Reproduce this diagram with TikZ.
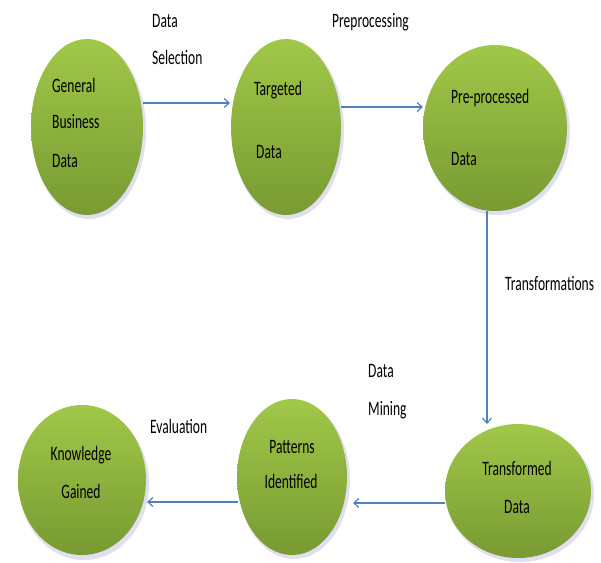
\documentclass[tikz,border=0pt]{standalone}
\usepackage{fontspec}
\setmainfont[FakeStretch=0.66]{Carlito}
\usetikzlibrary{arrows.meta,shapes.geometric}
\definecolor{gtop}{RGB}{160,200,72}
\definecolor{gbot}{RGB}{120,154,50}
\definecolor{arr}{RGB}{79,129,189}
\tikzset{
  blob/.style={ellipse, inner sep=0pt, top color=gtop, bottom color=gbot, draw=none},
  shad/.style={ellipse, inner sep=0pt, fill=gray!60!blue!30, draw=none, opacity=0.6},
  txt/.style={inner sep=0pt, anchor=base west, font=\fontsize{20.5}{22}\selectfont, text=black},
  txtc/.style={inner sep=0pt, anchor=base, font=\fontsize{20.5}{22}\selectfont, text=black},
  flow/.style={draw=arr, line width=1.4pt, -{Straight Barb[length=5pt,width=9pt,line width=1.2pt]}}
}
\begin{document}
\begin{tikzpicture}[x=1pt,y=-1pt]
\useasboundingbox (0,0) rectangle (601,562);
% shadows
\node[shad, minimum width=114pt, minimum height=178pt] at (89,130) {};
\node[shad, minimum width=112pt, minimum height=178pt] at (288,130) {};
\node[shad, minimum width=146pt, minimum height=168pt] at (497,131) {};
\node[shad, minimum width=148pt, minimum height=136pt] at (520,494) {};
\node[shad, minimum width=112pt, minimum height=158pt] at (294,480) {};
\node[shad, minimum width=130pt, minimum height=152pt] at (84,484) {};
% ellipses
\node[blob, minimum width=112pt, minimum height=176pt] (gbd) at (87,127) {};
\node[blob, minimum width=110pt, minimum height=176pt] (td) at (286,127) {};
\node[blob, minimum width=144pt, minimum height=166pt] (ppd) at (495,128) {};
\node[blob, minimum width=146pt, minimum height=134pt] (trd) at (518,491) {};
\node[blob, minimum width=110pt, minimum height=156pt] (pi) at (292,477) {};
\node[blob, minimum width=128pt, minimum height=150pt] (kg) at (82,480) {};
% arrow endpoints
\coordinate (a1s) at (143,103); \coordinate (a1e) at (230,103);
\coordinate (a2s) at (341,107); \coordinate (a2e) at (423,107);
\coordinate (a3s) at (487,211); \coordinate (a3e) at (487,424);
\coordinate (a4s) at (445,503); \coordinate (a4e) at (353,503);
\coordinate (a5s) at (238,502); \coordinate (a5e) at (147,502);
\draw[flow] (a1s) -- (a1e);
\draw[flow] (a2s) -- (a2e);
\draw[flow] (a3s) -- (a3e);
\draw[flow] (a4s) -- (a4e);
\draw[flow] (a5s) -- (a5e);
% node texts
\node[txt] (t1) at (52,92) {General};
\node[txt] (t2) at (52,128) {Business};
\node[txt] (t3) at (52,167) {Data};
\node[txt] (t4) at (254,95) {Targeted};
\node[txt] (t5) at (256,158) {Data};
\node[txt] (t6) at (451,103) {Pre-processed};
\node[txt] (t7) at (451,165) {Data};
\node[txtc] (t8) at (517,475) {Transformed};
\node[txtc] (t9) at (517,513) {Data};
\node[txtc] (t10) at (292,453) {Patterns};
\node[txtc] (t11) at (291,488) {Identified};
\node[txtc] (t12) at (81,460) {Knowledge};
\node[txtc] (t13) at (81,498) {Gained};
% edge labels
\node[txt] (l1) at (152,27) {Data};
\node[txt] (l2) at (152,64) {Selection};
\node[txt] (l3) at (332,27) {Preprocessing};
\node[txt] (l4) at (505,290) {Transformations};
\node[txt] (l5) at (368,377) {Data};
\node[txt] (l6) at (368,415) {Mining};
\node[txt] (l7) at (150,433) {Evaluation};
\end{tikzpicture}
\end{document}
